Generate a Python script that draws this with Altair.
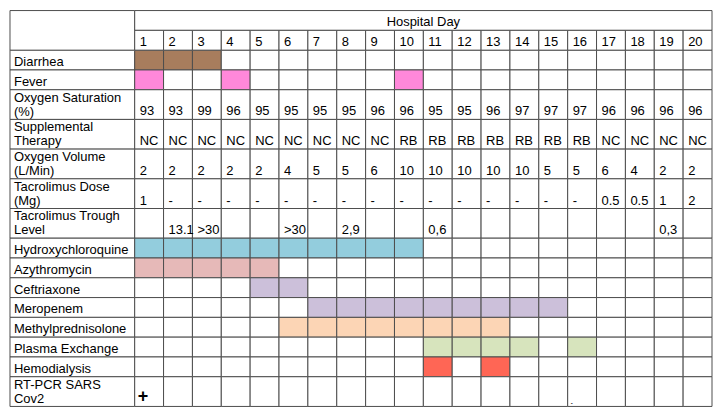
import altair as alt
import pandas as pd

# ---------------- data ----------------
days = [1, 2, 3, 4, 5, 6, 7, 8, 9, 10, 11, 12, 13, 14, 15, 16, 17, 18, 19, 20]

diarrhea_days = [1, 2, 3]
fever_days = [1, 4, 10]
o2_sat = ["93", "93", "99", "96", "95", "95", "95", "95", "96", "96",
          "95", "95", "96", "97", "97", "97", "96", "96", "96", "96"]
supplemental = ["NC", "NC", "NC", "NC", "NC", "NC", "NC", "NC", "NC", "RB",
                "RB", "RB", "RB", "RB", "RB", "RB", "NC", "NC", "NC", "NC"]
o2_volume = ["2", "2", "2", "2", "2", "4", "5", "5", "6", "10",
             "10", "10", "10", "10", "5", "5", "6", "4", "2", "2"]
tac_dose = ["1", "-", "-", "-", "-", "-", "-", "-", "-", "-",
            "-", "-", "-", "-", "-", "-", "0.5", "0.5", "1", "2"]
tac_trough = ["", "13.1", ">30", "", "", ">30", "", "2,9", "", "",
              "0,6", "", "", "", "", "", "", "", "0,3", ""]
hcq_days = [1, 2, 3, 4, 5, 6, 7, 8, 9, 10]
azithro_days = [1, 2, 3, 4, 5]
ceftriaxone_days = [5, 6]
meropenem_days = [7, 8, 9, 10, 11, 12, 13, 14, 15]
methylpred_days = [6, 7, 8, 9, 10, 11, 12, 13]
plasma_days = [11, 12, 13, 14, 16]
hemodialysis_days = [11, 13]
pcr_days = [1, 16]
pcr_results = ["+", "-"]

rows = [
    ("Diarrhea", "fill", diarrhea_days, "#A87D5D"),
    ("Fever", "fill", fever_days, "#FF88DA"),
    ("Oxygen Saturation\n(%)", "text", o2_sat, None),
    ("Supplemental\nTherapy", "text", supplemental, None),
    ("Oxygen Volume\n(L/Min)", "text", o2_volume, None),
    ("Tacrolimus Dose\n(Mg)", "text", tac_dose, None),
    ("Tacrolimus Trough\nLevel", "text", tac_trough, None),
    ("Hydroxychloroquine", "fill", hcq_days, "#93CDDD"),
    ("Azythromycin", "fill", azithro_days, "#E6B9B8"),
    ("Ceftriaxone", "fill", ceftriaxone_days, "#CCC0DA"),
    ("Meropenem", "fill", meropenem_days, "#CCC0DA"),
    ("Methylprednisolone", "fill", methylpred_days, "#FCD5B5"),
    ("Plasma Exchange", "fill", plasma_days, "#D7E4BD"),
    ("Hemodialysis", "fill", hemodialysis_days, "#FF6655"),
    ("RT-PCR SARS\nCov2", "pcr", pcr_days, None),
]

# ---------------- table construction ----------------
LABEL_W = 4.32          # label column width in day-column units
GRID = "#4d4d4d"
FONT = "Liberation Sans"
FS = 13

cells, labels1, labels2, texts, pcr = [], [], [], [], []
header = [
    {"x0": -LABEL_W, "x1": 0, "y0": 0, "y1": 2, "fill": "white"},
    {"x0": 0, "x1": 20, "y0": 0, "y1": 1, "fill": "white"},
]
for d in days:
    header.append({"x0": d - 1, "x1": d, "y0": 1, "y1": 2, "fill": "white"})
    texts.append({"x": d - 1, "y": 2, "t": str(d)})

y = 2.0
for label, kind, vals, color in rows:
    nlines = label.count("\n") + 1
    h = 1 + 0.5 * (nlines - 1)
    y0, y1 = y, y + h
    cells.append({"x0": -LABEL_W, "x1": 0, "y0": y0, "y1": y1, "fill": "white"})
    if nlines == 1:
        labels1.append({"x": -LABEL_W, "y": y1, "t": label})
    else:
        labels2.append({"x": -LABEL_W, "y": y0, "t": label})
    for i, d in enumerate(days):
        fill = "white"
        if kind == "fill" and d in vals:
            fill = color
        cells.append({"x0": d - 1, "x1": d, "y0": y0, "y1": y1, "fill": fill})
        if kind == "text" and vals[i] != "":
            texts.append({"x": d - 1, "y": y1, "t": vals[i]})
    if kind == "pcr":
        for d, r in zip(pcr_days, pcr_results):
            pcr.append({"x": d - 1, "y": y1, "t": r,
                        "fs": 18 if r == "+" else 6})
    y = y1

TOTAL_H = y

xs = alt.Scale(domain=[-LABEL_W, 20], nice=False, zero=False)
ys = alt.Scale(domain=[0, TOTAL_H], nice=False, zero=False, reverse=True)

def rect_layer(df):
    return alt.Chart(pd.DataFrame(df)).mark_rect(
        stroke=GRID, strokeWidth=1
    ).encode(
        x=alt.X("x0:Q", scale=xs, axis=None),
        x2="x1:Q",
        y=alt.Y("y0:Q", scale=ys, axis=None),
        y2="y1:Q",
        color=alt.Color("fill:N", scale=None),
    )

def text_layer(df, **kw):
    base = dict(font=FONT, fontSize=FS, color="black", align="left")
    base.update(kw)
    return alt.Chart(pd.DataFrame(df)).mark_text(**base).encode(
        x=alt.X("x:Q", scale=xs, axis=None),
        y=alt.Y("y:Q", scale=ys, axis=None),
        text="t:N",
    )

cell_layer = rect_layer(cells)
header_layer = rect_layer(header)

label1_layer = text_layer(labels1, baseline="bottom", dx=4, dy=-1)
label2_layer = text_layer(labels2, baseline="top", dx=4, dy=2, lineBreak="\n",
                          lineHeight=14)
value_layer = text_layer(texts, baseline="bottom", dx=5, dy=-1)
title_layer = text_layer([{"x": 10, "y": 1, "t": "Hospital Day"}],
                         align="center", baseline="bottom", dy=-1)
pcr_layer = alt.Chart(pd.DataFrame(pcr)).mark_text(
    font=FONT, color="black", align="left", baseline="bottom",
    dx=3, dy=0, fontWeight="bold"
).encode(
    x=alt.X("x:Q", scale=xs, axis=None),
    y=alt.Y("y:Q", scale=ys, axis=None),
    text="t:N",
    size=alt.Size("fs:Q", scale=None),
)

chart = alt.layer(
    cell_layer, header_layer, label1_layer, label2_layer, value_layer,
    title_layer, pcr_layer
).properties(
    width=704, height=397, padding=1, background="white"
).configure_view(strokeWidth=0)

chart.save("out.html", embed_options={"renderer": "svg", "actions": False})
